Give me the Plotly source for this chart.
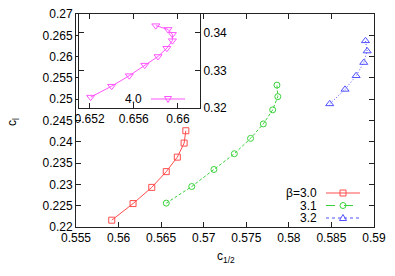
import plotly.graph_objects as go

# ---------------- data ----------------
x_b30 = [0.5592, 0.5617, 0.5639, 0.5656, 0.5669, 0.5677, 0.5679]
y_b30 = [0.2216, 0.2255, 0.2293, 0.2330, 0.2364, 0.2397, 0.2426]

x_b31 = [0.5656, 0.5686, 0.5712, 0.5736, 0.5755, 0.5770, 0.5781, 0.5787, 0.5786]
y_b31 = [0.2256, 0.2295, 0.2335, 0.2372, 0.2408, 0.2442, 0.2475, 0.2506, 0.2533]

x_b32 = [0.5848, 0.5866, 0.5879, 0.5888, 0.5892, 0.5890]
y_b32 = [0.2489, 0.2523, 0.2555, 0.2586, 0.2613, 0.2637]

x_b40 = [0.6521, 0.6540, 0.6556, 0.6570, 0.6582, 0.6590, 0.6595, 0.6595, 0.6591, 0.6580]
y_b40 = [0.3229, 0.3258, 0.3286, 0.3314, 0.3337, 0.3359, 0.3379, 0.3396, 0.3409, 0.3419]

main_xticks = [0.555, 0.56, 0.565, 0.57, 0.575, 0.58, 0.585, 0.59]
main_xlabels = ["0.555", "0.56", "0.565", "0.57", "0.575", "0.58", "0.585", "0.59"]
main_yticks = [0.22, 0.225, 0.23, 0.235, 0.24, 0.245, 0.25, 0.255, 0.26, 0.265, 0.27]
main_ylabels = ["0.22", "0.225", "0.23", "0.235", "0.24", "0.245", "0.25", "0.255", "0.26", "0.265", "0.27"]
inset_xticks = [0.652, 0.656, 0.66]
inset_xlabels = ["0.652", "0.656", "0.66"]
inset_yticks = [0.32, 0.33, 0.34]
inset_ylabels = ["0.32", "0.33", "0.34"]

legend_labels = ["β=3.0", "3.1", "3.2"]
inset_legend_label = "4.0"

# ---------------- styles ----------------
RED = "#ff4d4d"
GREEN = "#3ad23a"
BLUE = "#5050ff"
MAG = "#ff55ff"
FONT = "Liberation Sans, Arial, sans-serif"
AX = "#222222"

W, H = 395, 276
L, R, T, B = 76, 21, 14, 49
PW, PH = W - L - R, H - T - B


def px(x):
    return (x - L) / PW


def py(y):
    return (H - B - y) / PH


fig = go.Figure()

series = [
    (x_b30, y_b30, RED, "solid", "square-open", 6),
    (x_b31, y_b31, GREEN, "3px,2px", "circle-open", 6),
    (x_b32, y_b32, BLUE, "1px,2px", "triangle-up-open", 7),
]
for xs, ys, col, dash, sym, sz in series:
    fig.add_trace(go.Scatter(
        x=xs, y=ys, mode="lines+markers",
        line=dict(color=col, width=1, dash=dash),
        marker=dict(symbol=sym, size=sz, color=col, line=dict(width=1, color=col)),
        showlegend=False, hoverinfo="skip"))

fig.add_trace(go.Scatter(
    x=x_b40, y=y_b40, mode="lines+markers", xaxis="x2", yaxis="y2",
    line=dict(color=MAG, width=1),
    marker=dict(symbol="triangle-down-open", size=7, color=MAG, line=dict(width=1, color=MAG)),
    showlegend=False, hoverinfo="skip"))

# ---- legend (gnuplot-style key: text, then sample) ----
shapes = []
dash_map = {"solid": "solid", "3px,2px": "dash", "1px,2px": "dot"}


def marker_shape(sym, cx, cy, col):
    r = 3
    if sym.startswith("square"):
        return dict(type="rect", xref="paper", yref="paper",
                    x0=px(cx - r), x1=px(cx + r), y0=py(cy + r), y1=py(cy - r),
                    line=dict(color=col, width=1))
    if sym.startswith("circle"):
        return dict(type="circle", xref="paper", yref="paper",
                    x0=px(cx - r), x1=px(cx + r), y0=py(cy + r), y1=py(cy - r),
                    line=dict(color=col, width=1))
    if sym.startswith("triangle-up"):
        path = "M %f,%f L %f,%f L %f,%f Z" % (px(cx), py(cy - 3.5), px(cx - 3.5), py(cy + 2.5),
                                              px(cx + 3.5), py(cy + 2.5))
    else:
        path = "M %f,%f L %f,%f L %f,%f Z" % (px(cx), py(cy + 3.5), px(cx - 3.5), py(cy - 2.5),
                                              px(cx + 3.5), py(cy - 2.5))
    return dict(type="path", xref="paper", yref="paper", path=path, line=dict(color=col, width=1))


leg_rows = [193, 205.5, 218]
for (xs, ys, col, dash, sym, sz), yrow, lab in zip(series, leg_rows, legend_labels):
    shapes.append(dict(type="line", xref="paper", yref="paper",
                       x0=px(326), x1=px(360), y0=py(yrow), y1=py(yrow),
                       line=dict(color=col, width=1, dash=dash_map[dash])))
    shapes.append(marker_shape(sym, 343, yrow, col))
    fig.add_annotation(x=px(319), y=py(yrow), xref="paper", yref="paper", text=lab,
                       showarrow=False, xanchor="right", yanchor="middle",
                       font=dict(family=FONT, size=12, color="black"))

shapes.append(dict(type="line", xref="paper", yref="paper",
                   x0=px(151), x1=px(185), y0=py(99), y1=py(99),
                   line=dict(color=MAG, width=1)))
shapes.append(marker_shape("triangle-down", 168, 99, MAG))
fig.add_annotation(x=px(144), y=py(99), xref="paper", yref="paper", text=inset_legend_label,
                   showarrow=False, xanchor="right", yanchor="middle",
                   font=dict(family=FONT, size=12, color="black"))

# axis titles
fig.add_annotation(x=px(13), y=py(122), xref="paper", yref="paper",
                   text="c<sub>l</sub>", showarrow=False, textangle=-90,
                   xanchor="center", yanchor="middle",
                   font=dict(family=FONT, size=12, color="black"))
fig.add_annotation(x=px(226), y=py(257), xref="paper", yref="paper",
                   text="c<sub>1/2</sub>", showarrow=False,
                   xanchor="center", yanchor="middle",
                   font=dict(family=FONT, size=12, color="black"))

tickfont = dict(family=FONT, size=12, color="black")
ix0 = px(78.5)
ix1 = px(200)
iy0 = py(108)

common = dict(ticks="inside", ticklen=5, tickcolor=AX, showline=True, linecolor=AX, linewidth=1,
              mirror="allticks", showgrid=False, zeroline=False, tickfont=tickfont)

fig.update_layout(
    width=W, height=H,
    margin=dict(l=L, r=R, t=T, b=B, pad=0, autoexpand=False),
    paper_bgcolor="white", plot_bgcolor="white",
    showlegend=False,
    shapes=shapes,
    xaxis=dict(domain=[0, 1], range=[0.555, 0.59], tickmode="array",
               tickvals=main_xticks, ticktext=main_xlabels, anchor="y", **common),
    yaxis=dict(domain=[0, 1], range=[0.22, 0.27], tickmode="array",
               tickvals=main_yticks, ticktext=main_ylabels, anchor="x", **common),
    xaxis2=dict(domain=[ix0, ix1], range=[0.651, 0.662], anchor="y2", tickmode="array",
                tickvals=inset_xticks, ticktext=inset_xlabels, **common),
    yaxis2=dict(domain=[iy0, 1], range=[0.32, 0.345], anchor="x2", side="right", tickmode="array",
                tickvals=inset_yticks, ticktext=inset_ylabels, **common),
)

fig.write_html("out.html", config={"displayModeBar": False},
               post_script="document.body.style.margin='0px';document.body.style.padding='0px';")
